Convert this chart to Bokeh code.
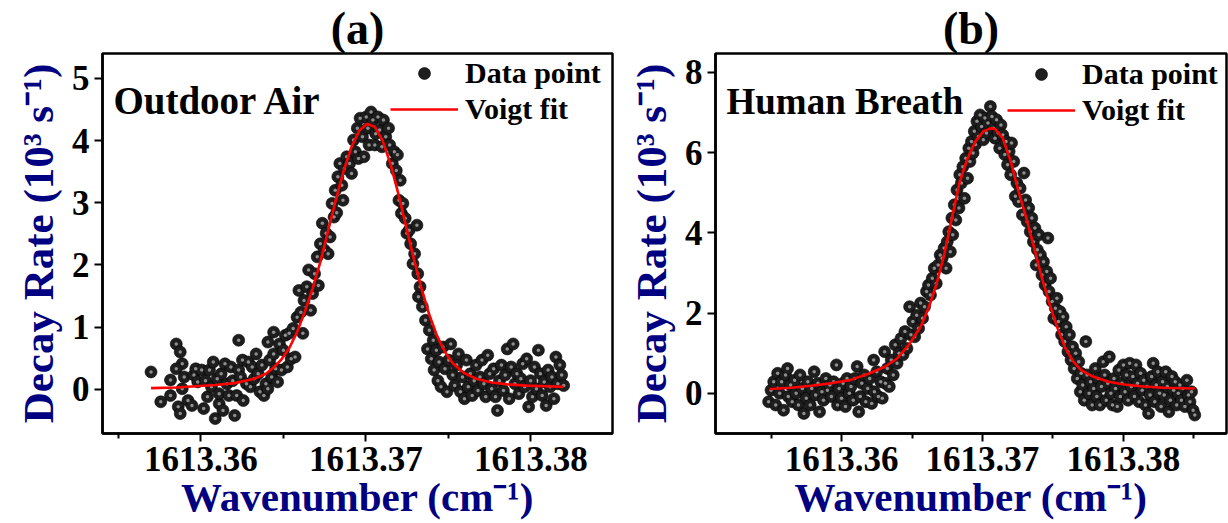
from bokeh.plotting import figure
from bokeh.models import Range1d, FixedTicker, PrintfTickFormatter, Label, Legend, LegendItem
from bokeh.layouts import row
from bokeh.embed import file_html
from bokeh.resources import INLINE

# ---------------- data : panel (a) Outdoor Air ----------------
wn_a = [
    1613.35698, 1613.35757, 1613.35816, 1613.35816, 1613.35851, 1613.35875, 1613.35863, 1613.35875, 1613.35887, 1613.35851,
    1613.35887, 1613.35899, 1613.35922, 1613.35946, 1613.35958, 1613.35969, 1613.35981, 1613.36005, 1613.36017, 1613.36028,
    1613.36040, 1613.36052, 1613.36064, 1613.36075, 1613.36087, 1613.36099, 1613.36111, 1613.36111, 1613.36123, 1613.36134,
    1613.36146, 1613.36158, 1613.36170, 1613.36182, 1613.36193, 1613.36205, 1613.36217, 1613.36229, 1613.36229, 1613.36241,
    1613.36252, 1613.36257, 1613.36276, 1613.36288, 1613.36300, 1613.36311, 1613.36323, 1613.36335, 1613.36347, 1613.36358,
    1613.36370, 1613.36382, 1613.36394, 1613.36406, 1613.36406, 1613.36417, 1613.36429, 1613.36441, 1613.36441, 1613.36453,
    1613.36465, 1613.36476, 1613.36488, 1613.36500, 1613.36512, 1613.36524, 1613.36535, 1613.36547, 1613.36559, 1613.36571,
    1613.36583, 1613.36594, 1613.36606, 1613.36618, 1613.36625, 1613.36642, 1613.36653, 1613.36665, 1613.36677, 1613.36689,
    1613.36705, 1613.36712, 1613.36724, 1613.36736, 1613.36748, 1613.36759, 1613.36771, 1613.36783, 1613.36795, 1613.36807,
    1613.36814, 1613.36823, 1613.36830, 1613.36842, 1613.36854, 1613.36861, 1613.36870, 1613.36884, 1613.36901, 1613.36913,
    1613.36925, 1613.36936, 1613.36948, 1613.36955, 1613.36965, 1613.36979, 1613.36988, 1613.37002, 1613.37012, 1613.37019,
    1613.37031, 1613.37042, 1613.37054, 1613.37059, 1613.37073, 1613.37083, 1613.37097, 1613.37106, 1613.37120, 1613.37137,
    1613.37144, 1613.37160, 1613.37172, 1613.37184, 1613.37191, 1613.37200, 1613.37208, 1613.37215, 1613.37224, 1613.37238,
    1613.37248, 1613.37262, 1613.37271, 1613.37285, 1613.37295, 1613.37309, 1613.37314, 1613.37318, 1613.37328, 1613.37342,
    1613.37361, 1613.37373, 1613.37384, 1613.37396, 1613.37408, 1613.37413, 1613.37427, 1613.37436, 1613.37443, 1613.37455,
    1613.37467, 1613.37479, 1613.37491, 1613.37502, 1613.37514, 1613.37526, 1613.37538, 1613.37550, 1613.37561, 1613.37573,
    1613.37585, 1613.37597, 1613.37609, 1613.37620, 1613.37632, 1613.37644, 1613.37656, 1613.37668, 1613.37679, 1613.37691,
    1613.37703, 1613.37715, 1613.37726, 1613.37738, 1613.37750, 1613.37762, 1613.37774, 1613.37785, 1613.37797, 1613.37809,
    1613.37821, 1613.37833, 1613.37844, 1613.37856, 1613.37868, 1613.37880, 1613.37892, 1613.37903, 1613.37915, 1613.37927,
    1613.37939, 1613.37950, 1613.37962, 1613.37974, 1613.37986, 1613.37998, 1613.38009, 1613.38021, 1613.38033, 1613.38045,
    1613.38057, 1613.38068, 1613.38080, 1613.38092, 1613.38104, 1613.38116, 1613.38127, 1613.38139, 1613.38151, 1613.38163,
    1613.38175, 1613.38186, 1613.38198,
]
rate_a = [
    0.28, -0.20, -0.10, 0.15, 0.73, 0.60, -0.28, -0.39, 0.41, 0.33,
    0.01, 0.20, -0.18, -0.26, 0.23, 0.33, 0.12, 0.31, -0.31, 0.14,
    -0.12, 0.31, 0.04, 0.44, -0.47, 0.17, -0.23, -0.07, 0.25, -0.34,
    0.41, 0.09, -0.10, 0.36, 0.14, -0.42, -0.10, 0.79, 0.31, 0.20,
    0.47, -0.18, 0.09, 0.44, 0.04, 0.36, 0.17, 0.57, 0.25, -0.04,
    0.39, -0.10, 0.09, 0.76, 0.01, 0.47, 0.20, 0.92, 0.57, 0.33,
    0.12, 0.73, 0.31, 0.63, 0.87, 0.36, 0.90, 0.49, 0.98, 0.52,
    1.16, 1.59, 1.24, 0.90, 1.43, 1.65, 1.92, 1.27, 1.54, 1.86,
    2.13, 1.67, 2.34, 2.67, 2.24, 2.51, 2.18, 2.45, 2.99, 2.77,
    3.20, 2.84, 3.42, 3.63, 3.28, 3.04, 3.55, 3.74, 3.63, 3.47,
    4.01, 3.82, 4.20, 3.71, 4.36, 4.06, 3.74, 4.38, 4.20, 3.93,
    4.46, 4.33, 3.93, 4.11, 4.38, 4.17, 3.90, 4.33, 4.06, 4.20,
    3.93, 3.63, 3.82, 3.52, 3.77, 3.04, 3.36, 2.83, 2.99, 2.75,
    2.51, 2.56, 2.34, 2.02, 2.18, 2.64, 1.86, 1.49, 1.65, 1.33,
    1.11, 0.65, 0.95, 0.49, 0.79, 0.31, 0.63, 0.14, 0.44, 0.04,
    0.68, 0.33, -0.04, 0.47, 0.73, 0.23, 0.06, 0.39, 0.57, -0.04,
    0.20, -0.15, 0.47, 0.04, 0.25, -0.10, 0.14, 0.39, -0.02, 0.20,
    0.47, 0.09, -0.12, 0.55, 0.25, 0.01, 0.33, -0.12, -0.34, 0.14,
    0.39, -0.02, 0.23, 0.65, -0.15, 0.36, 0.73, 0.09, 0.25, -0.07,
    0.17, 0.41, 0.04, 0.49, -0.28, 0.14, -0.12, 0.36, 0.01, 0.63,
    0.25, -0.10, 0.12, -0.26, 0.31, 0.04, 0.20, -0.15, 0.52, 0.09,
    0.39, 0.23, 0.06,
]
fit_wn_a = [
    1613.35698, 1613.35851, 1613.35969, 1613.36087, 1613.36205, 1613.36323, 1613.36394, 1613.36441, 1613.36488, 1613.36535,
    1613.36583, 1613.36630, 1613.36677, 1613.36724, 1613.36771, 1613.36818, 1613.36866, 1613.36913, 1613.36960, 1613.37007,
    1613.37054, 1613.37101, 1613.37149, 1613.37196, 1613.37243, 1613.37290, 1613.37337, 1613.37384, 1613.37431, 1613.37479,
    1613.37526, 1613.37597, 1613.37668, 1613.37762, 1613.37856, 1613.37974, 1613.38092, 1613.38198,
]
fit_rate_a = [
    0.02, 0.03, 0.05, 0.07, 0.10, 0.17, 0.25, 0.35, 0.48, 0.66,
    0.92, 1.25, 1.62, 2.05, 2.55, 3.05, 3.52, 3.90, 4.16, 4.27,
    4.22, 4.00, 3.62, 3.15, 2.62, 2.10, 1.62, 1.20, 0.86, 0.60,
    0.42, 0.26, 0.17, 0.11, 0.08, 0.06, 0.05, 0.04,
]

# ---------------- data : panel (b) Human Breath ----------------
wn_b = [
    1613.35483, 1613.35500, 1613.35519, 1613.35533, 1613.35547, 1613.35561, 1613.35575, 1613.35589, 1613.35603, 1613.35617,
    1613.35622, 1613.35639, 1613.35650, 1613.35667, 1613.35678, 1613.35694, 1613.35706, 1613.35722, 1613.35733, 1613.35750,
    1613.35761, 1613.35778, 1613.35789, 1613.35806, 1613.35817, 1613.35833, 1613.35844, 1613.35861, 1613.35872, 1613.35889,
    1613.35900, 1613.35917, 1613.35928, 1613.35944, 1613.35964, 1613.35972, 1613.35983, 1613.36000, 1613.36011, 1613.36028,
    1613.36039, 1613.36056, 1613.36067, 1613.36083, 1613.36094, 1613.36111, 1613.36122, 1613.36133, 1613.36144, 1613.36161,
    1613.36172, 1613.36186, 1613.36200, 1613.36214, 1613.36228, 1613.36233, 1613.36250, 1613.36261, 1613.36278, 1613.36289,
    1613.36306, 1613.36311, 1613.36325, 1613.36339, 1613.36353, 1613.36367, 1613.36381, 1613.36394, 1613.36408, 1613.36422,
    1613.36436, 1613.36450, 1613.36464, 1613.36483, 1613.36492, 1613.36506, 1613.36519, 1613.36533, 1613.36547, 1613.36561,
    1613.36575, 1613.36589, 1613.36603, 1613.36617, 1613.36631, 1613.36644, 1613.36658, 1613.36672, 1613.36686, 1613.36700,
    1613.36714, 1613.36728, 1613.36742, 1613.36750, 1613.36761, 1613.36772, 1613.36783, 1613.36789, 1613.36800, 1613.36811,
    1613.36819, 1613.36833, 1613.36839, 1613.36850, 1613.36861, 1613.36872, 1613.36881, 1613.36894, 1613.36903, 1613.36911,
    1613.36922, 1613.36933, 1613.36942, 1613.36950, 1613.36961, 1613.36972, 1613.36983, 1613.36994, 1613.37006, 1613.37017,
    1613.37028, 1613.37039, 1613.37056, 1613.37067, 1613.37078, 1613.37089, 1613.37100, 1613.37111, 1613.37122, 1613.37131,
    1613.37144, 1613.37158, 1613.37167, 1613.37178, 1613.37189, 1613.37200, 1613.37206, 1613.37222, 1613.37233, 1613.37244,
    1613.37256, 1613.37267, 1613.37283, 1613.37294, 1613.37306, 1613.37317, 1613.37328, 1613.37339, 1613.37350, 1613.37361,
    1613.37372, 1613.37381, 1613.37389, 1613.37400, 1613.37411, 1613.37422, 1613.37433, 1613.37444, 1613.37456, 1613.37464,
    1613.37472, 1613.37483, 1613.37494, 1613.37506, 1613.37517, 1613.37528, 1613.37539, 1613.37550, 1613.37561, 1613.37572,
    1613.37583, 1613.37594, 1613.37606, 1613.37617, 1613.37628, 1613.37639, 1613.37650, 1613.37661, 1613.37672, 1613.37683,
    1613.37694, 1613.37700, 1613.37711, 1613.37722, 1613.37733, 1613.37742, 1613.37756, 1613.37767, 1613.37778, 1613.37789,
    1613.37800, 1613.37811, 1613.37822, 1613.37833, 1613.37844, 1613.37856, 1613.37867, 1613.37878, 1613.37889, 1613.37900,
    1613.37911, 1613.37922, 1613.37933, 1613.37944, 1613.37956, 1613.37967, 1613.37978, 1613.37989, 1613.38000, 1613.38011,
    1613.38022, 1613.38033, 1613.38044, 1613.38056, 1613.38067, 1613.38078, 1613.38089, 1613.38100, 1613.38111, 1613.38122,
    1613.38133, 1613.38144, 1613.38156, 1613.38167, 1613.38178, 1613.38189, 1613.38200, 1613.38211, 1613.38222, 1613.38233,
    1613.38244, 1613.38256, 1613.38267, 1613.38278, 1613.38289, 1613.38300, 1613.38311, 1613.38322, 1613.38333, 1613.38344,
    1613.38356, 1613.38367, 1613.38378, 1613.38389, 1613.38400, 1613.38411, 1613.38422, 1613.38436, 1613.38450, 1613.38461,
    1613.38472, 1613.38483, 1613.38494, 1613.38506,
]
rate_b = [
    -0.21, 0.08, 0.29, -0.29, 0.50, 0.00, 0.29, -0.42, 0.46, 0.62,
    -0.08, 0.21, -0.21, 0.33, 0.00, -0.29, 0.46, 0.12, -0.50, -0.12,
    0.29, -0.29, 0.12, 0.54, -0.04, 0.25, -0.46, 0.04, -0.17, 0.37,
    0.08, 0.21, -0.08, 0.29, 0.71, -0.29, 0.12, -0.12, 0.25, -0.33,
    0.37, 0.00, 0.17, -0.17, 0.37, 0.67, -0.46, -0.08, 0.25, 0.46,
    -0.21, 0.12, 0.37, -0.25, 0.83, 0.04, 0.54, -0.08, 0.29, -0.12,
    1.04, 0.25, 0.62, 0.17, 0.83, 0.46, 1.21, 0.75, 1.00, 1.37,
    0.96, 1.54, 1.12, 2.16, 1.46, 1.79, 1.41, 1.95, 1.62, 2.25,
    1.87, 2.16, 2.54, 2.70, 2.45, 2.87, 3.12, 2.74, 3.20, 3.45,
    3.37, 3.62, 3.12, 3.78, 4.03, 3.53, 4.37, 3.95, 4.70, 4.32,
    5.07, 4.62, 5.45, 5.24, 5.65, 4.86, 5.86, 5.36, 6.11, 5.78,
    6.28, 5.99, 6.53, 6.20, 6.78, 6.40, 6.94, 6.65, 6.32, 6.86,
    6.49, 6.74, 7.15, 6.90, 6.61, 6.36, 6.82, 6.49, 6.11, 6.69,
    6.44, 5.95, 6.28, 5.70, 6.03, 5.45, 6.24, 5.78, 4.91, 5.24,
    4.78, 5.11, 4.45, 5.49, 4.82, 4.28, 4.62, 4.03, 4.37, 3.78,
    4.12, 3.20, 3.58, 3.95, 3.45, 2.95, 3.28, 2.70, 3.04, 3.87,
    2.54, 2.87, 2.29, 1.87, 2.12, 2.37, 1.79, 2.04, 1.46, 1.91,
    1.29, 1.66, 1.04, 1.46, 0.83, 1.16, 0.62, 1.00, 0.37, 0.79,
    0.04, 0.50, 0.21, -0.17, 1.29, 0.46, 0.00, 0.29, -0.29, 0.12,
    0.62, -0.08, 0.37, -0.29, 0.17, 0.79, 0.46, -0.17, 0.25, 0.91,
    0.00, -0.29, 0.37, 0.12, -0.33, 0.58, -0.08, 0.25, 0.71, 0.04,
    0.46, -0.17, 0.75, 0.17, 0.42, -0.08, 0.71, 0.25, -0.21, 0.50,
    0.08, 0.33, -0.29, 0.17, -0.50, -0.04, 0.42, 0.75, -0.21, 0.21,
    0.54, 0.00, -0.33, 0.29, -0.04, 0.54, 0.17, -0.46, -0.17, 0.42,
    0.08, 0.29, -0.29, 0.00, 0.21, -0.17, 0.12, -0.33, 0.33, -0.04,
    -0.21, 0.04, -0.42, -0.54,
]
fit_wn_b = [
    1613.35492, 1613.35644, 1613.35783, 1613.35922, 1613.36061, 1613.36200, 1613.36311, 1613.36394, 1613.36478, 1613.36561,
    1613.36617, 1613.36672, 1613.36728, 1613.36783, 1613.36839, 1613.36894, 1613.36950, 1613.37006, 1613.37061, 1613.37089,
    1613.37144, 1613.37200, 1613.37256, 1613.37311, 1613.37367, 1613.37422, 1613.37478, 1613.37533, 1613.37589, 1613.37644,
    1613.37700, 1613.37783, 1613.37894, 1613.38006, 1613.38144, 1613.38283, 1613.38506,
]
fit_rate_b = [
    0.11, 0.14, 0.19, 0.25, 0.33, 0.50, 0.67, 0.87, 1.21, 1.66,
    2.12, 2.70, 3.45, 4.37, 5.28, 5.86, 6.28, 6.53, 6.61, 6.59,
    6.36, 5.78, 5.03, 4.37, 3.62, 2.87, 2.20, 1.62, 1.12, 0.79,
    0.58, 0.42, 0.29, 0.22, 0.17, 0.14, 0.12,
]

x_ticks = [1613.36, 1613.37, 1613.38]
x_minor = [1613.355, 1613.365, 1613.375, 1613.385]
y_ticks_a = [0, 1, 2, 3, 4, 5]
y_ticks_b = [0, 2, 4, 6, 8]

FONT = "Liberation Serif"
NAVY = "#000080"


def panel(title, title_shift, tag, tag_size, tag_xy, wn, rate, fwn, frate, xr, yr, yticks, leg_loc, left_border):
    p = figure(width=614, height=523, output_backend="svg", toolbar_location=None,
               x_range=Range1d(*xr), y_range=Range1d(*yr),
               min_border_left=left_border, min_border_right=2,
               min_border_top=53, min_border_bottom=90,
               background_fill_color="white", border_fill_color="white")
    p.title.text = title
    p.title.align = "center"
    p.title.offset = title_shift
    p.title.text_font = FONT
    p.title.text_font_style = "bold"
    p.title.text_font_size = "46px"
    p.title.text_color = "black"
    p.title.standoff = 0
    p.xgrid.visible = False
    p.ygrid.visible = False
    p.outline_line_color = "black"
    p.outline_line_width = 2.5
    p.outline_line_alpha = 1

    for ax in (p.xaxis[0], p.yaxis[0]):
        ax.axis_line_width = 2.5
        ax.major_tick_line_width = 2
        ax.minor_tick_line_width = 2
        ax.major_tick_in = 0
        ax.major_tick_out = 8
        ax.minor_tick_in = 0
        ax.minor_tick_out = 5
        ax.major_label_text_font = FONT
        ax.major_label_text_font_style = "bold"
        ax.major_label_text_font_size = "35px"
        ax.major_label_text_color = "black"
        ax.axis_label_text_font = FONT
        ax.axis_label_text_font_style = "bold"
        ax.axis_label_text_color = NAVY

    p.xaxis.ticker = FixedTicker(ticks=x_ticks, minor_ticks=x_minor)
    p.xaxis.formatter = PrintfTickFormatter(format="%.2f")
    p.xaxis.major_label_standoff = 5
    p.xaxis.axis_label = "Wavenumber (cm\u207b\u00b9)"
    p.xaxis.axis_label_standoff = 0
    p.xaxis.axis_label_text_font_size = "41px"

    p.yaxis.ticker = FixedTicker(ticks=yticks, minor_ticks=[])
    p.yaxis.major_label_standoff = 5
    p.yaxis.axis_label = "Decay Rate (10\u00b3 s\u207b\u00b9)"
    p.yaxis.axis_label_standoff = 7
    p.yaxis.axis_label_text_font_size = "43px"

    balls = p.scatter(wn, rate, size=12, fill_color="#1e1e1e", line_color="#000000", line_width=0.6)
    p.scatter(wn, rate, size=3.5, fill_color="#8f8f8f", line_alpha=0)
    fit = p.line(fwn, frate, line_color="#ff0000", line_width=2.6)

    p.add_layout(Label(x=tag_xy[0], y=tag_xy[1], text=tag, text_font=FONT, text_font_style="bold",
                       text_font_size=tag_size, text_color="black", text_baseline="alphabetic"))

    leg = Legend(items=[LegendItem(label="Data point", renderers=[balls]),
                        LegendItem(label="Voigt fit", renderers=[fit])],
                 location=leg_loc, border_line_alpha=0, background_fill_alpha=0,
                 padding=0, margin=0, spacing=2, glyph_width=68, glyph_height=30,
                 label_height=30, label_standoff=7, label_text_font=FONT,
                 label_text_font_style="bold", label_text_font_size="30px", label_text_color="black")
    p.add_layout(leg)
    return p


pa = panel("(a)", -8, "Outdoor Air", "39px", (1613.35470, 4.65), wn_a, rate_a, fit_wn_a, fit_rate_a,
           (1613.35404, 1613.38494), (-0.71, 5.40), y_ticks_a, (288, 307), 102)
pb = panel("(b)", -2, "Human Breath", "37px", (1613.35184, 7.28), wn_b, rate_b, fit_wn_b, fit_rate_b,
           (1613.35106, 1613.38731), (-1.0, 8.47), y_ticks_b, (292, 306), 101)

layout = row(pa, pb)
open("out.html", "w").write(file_html(layout, INLINE, "Decay rate"))
